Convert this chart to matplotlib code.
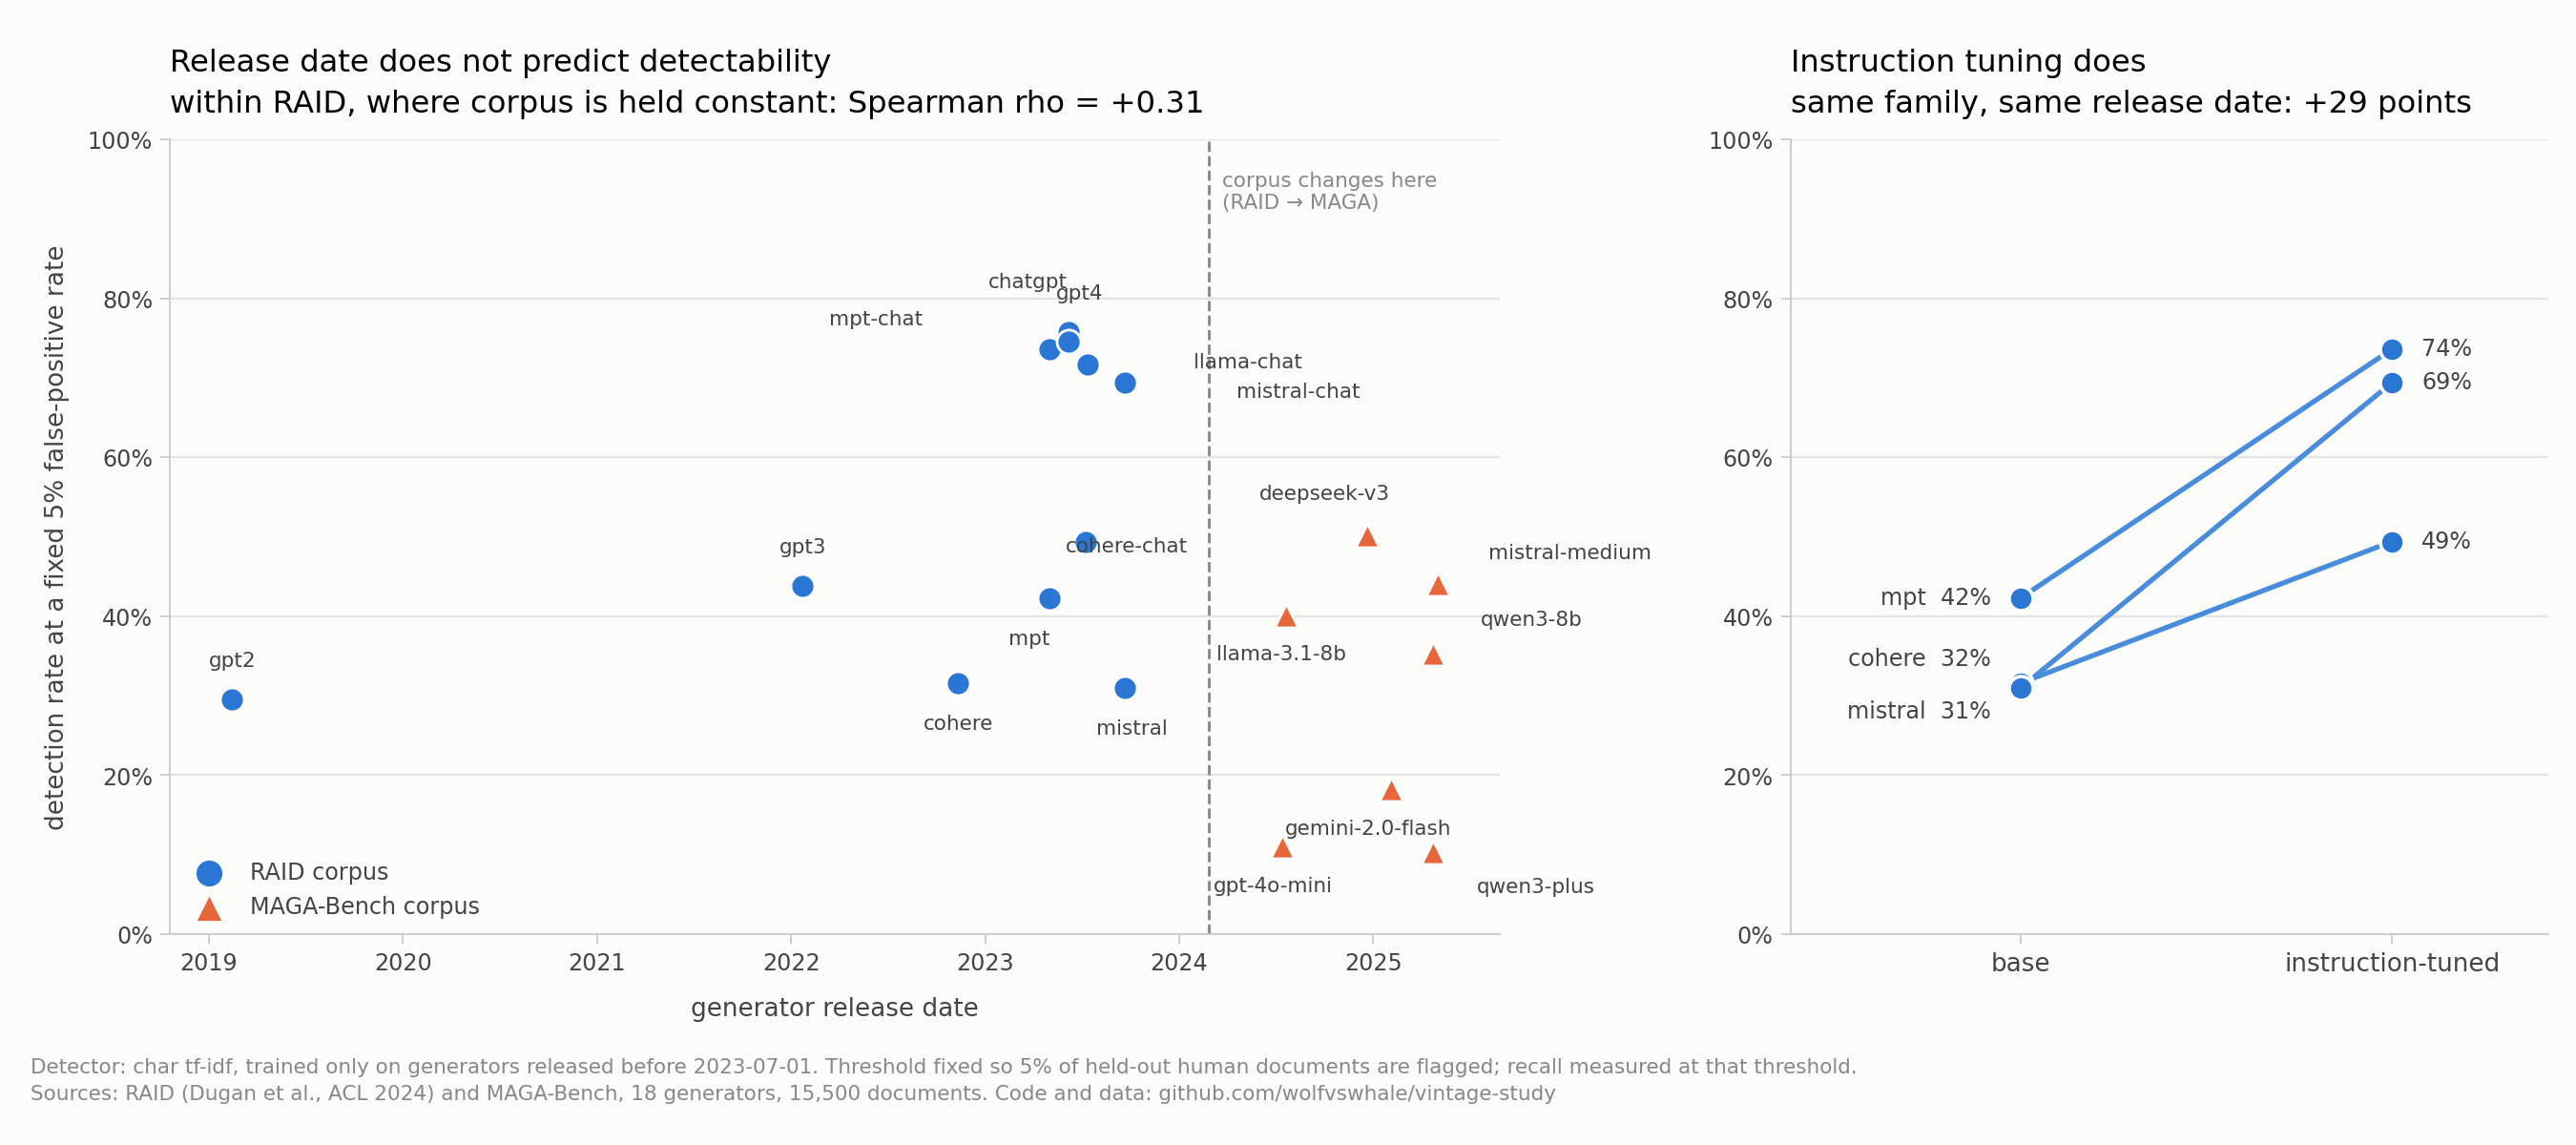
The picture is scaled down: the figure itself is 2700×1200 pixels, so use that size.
import matplotlib.pyplot as plt
from matplotlib.ticker import PercentFormatter

# RAID generators (release date as decimal year, detection %)
raid_names = ['gpt2', 'gpt3', 'cohere', 'mpt', 'mistral', 'cohere-chat',
              'mpt-chat', 'chatgpt', 'gpt4', 'llama-chat', 'mistral-chat']
raid_dates = [2019.12, 2022.06, 2022.86, 2023.33, 2023.72, 2023.52,
              2023.33, 2023.43, 2023.43, 2023.53, 2023.72]
raid_rates = [29.5, 43.8, 31.6, 42.3, 31.0, 49.4, 73.6, 75.8, 74.6, 71.7, 69.4]

maga_names = ['llama-3.1-8b', 'deepseek-v3', 'mistral-medium', 'qwen3-8b',
              'gemini-2.0-flash', 'gpt-4o-mini', 'qwen3-plus']
maga_dates = [2024.55, 2024.97, 2025.33, 2025.31, 2025.09, 2024.53, 2025.31]
maga_rates = [40.1, 50.2, 44.0, 35.3, 18.2, 11.0, 10.3]

corpus_change = 2024.15

families = ['mpt', 'cohere', 'mistral']
base_rates = [42.3, 31.6, 31.0]
tuned_rates = [73.6, 49.4, 69.4]

# label offsets in points
offs = {
    'gpt2': (0, 17), 'gpt3': (0, 17), 'cohere': (0, -18), 'mpt': (-9, -18),
    'mistral': (3, -18), 'cohere-chat': (18, -2), 'mpt-chat': (-76, 13),
    'chatgpt': (-18, 22), 'gpt4': (5, 21), 'llama-chat': (70, 1),
    'mistral-chat': (76, -4), 'llama-3.1-8b': (-2, -17), 'deepseek-v3': (-19, 18),
    'mistral-medium': (58, 14), 'qwen3-8b': (43, 15), 'gemini-2.0-flash': (-10, -17),
    'gpt-4o-mini': (-4, -17), 'qwen3-plus': (45, -15),
}

BLUE = '#2a76d4'
ORANGE = '#e8673a'
LINE = '#4a8cdc'
TXT = '#444444'
bg = '#fcfcfb'

plt.rcParams['font.family'] = 'DejaVu Sans'
fig = plt.figure(figsize=(15.7, 6.98), dpi=172, facecolor=bg)
ax = fig.add_axes([0.066, 0.184, 0.516, 0.694], facecolor=bg)
ax2 = fig.add_axes([0.695, 0.184, 0.294, 0.694], facecolor=bg)

for a in (ax, ax2):
    for s in ['top', 'right']:
        a.spines[s].set_visible(False)
    for s in ['left', 'bottom']:
        a.spines[s].set_color('#cccccc')
    a.set_ylim(0, 100)
    a.yaxis.set_major_formatter(PercentFormatter(decimals=0))
    a.set_yticks(range(0, 101, 20))
    a.grid(axis='y', color='#e4e4e4', lw=1)
    a.set_axisbelow(True)
    a.tick_params(colors=TXT, labelsize=10, length=4)
    a.tick_params(color='#cccccc')

ax.scatter(raid_dates, raid_rates, s=110, color=BLUE, edgecolor='white', lw=1.2,
           label='RAID corpus', zorder=3)
ax.scatter(maga_dates, maga_rates, s=110, marker='^', color=ORANGE, edgecolor='white',
           lw=1.2, label='MAGA-Bench corpus', zorder=3)
for n, x, y in zip(raid_names + maga_names, raid_dates + maga_dates, raid_rates + maga_rates):
    ax.annotate(n, (x, y), xytext=offs[n], textcoords='offset points',
                ha='center', va='center', fontsize=9, color=TXT)
ax.axvline(corpus_change, color='#888888', ls='--', lw=1.2)
ax.text(corpus_change + 0.07, 96, 'corpus changes here\n(RAID \u2192 MAGA)', fontsize=9,
        color='#888888', va='top')
ax.set_xlim(2018.8, 2025.65)
ax.set_xticks(range(2019, 2026))
ax.set_xlabel('generator release date', fontsize=11, color=TXT, labelpad=10)
ax.set_ylabel('detection rate at a fixed 5% false-positive rate', fontsize=11, color=TXT, labelpad=8)
ax.set_title('Release date does not predict detectability\nwithin RAID, where corpus is held constant: Spearman rho = +0.31',
             loc='left', fontsize=13.5, pad=12, linespacing=1.5)
leg = ax.legend(loc='lower left', frameon=False, fontsize=10, labelcolor=TXT,
                borderaxespad=0.3, handletextpad=0.8, markerscale=1.2)

# right panel
label_dy = [0, 7, -7]
for f, b, t, dy in zip(families, base_rates, tuned_rates, label_dy):
    ax2.plot([0, 1], [b, t], color=LINE, lw=2.2, zorder=2)
    ax2.annotate(f'{f}  {b:.0f}%', (0, b), xytext=(-13, dy * 1.5), textcoords='offset points',
                 ha='right', va='center', fontsize=10, color=TXT)
    ax2.annotate(f'{t:.0f}%', (1, t), xytext=(13, 0), textcoords='offset points',
                 ha='left', va='center', fontsize=10, color=TXT)
ax2.scatter([0] * 3, base_rates, s=110, color=BLUE, edgecolor='white', lw=1.5, zorder=3)
ax2.scatter([1] * 3, tuned_rates, s=110, color=BLUE, edgecolor='white', lw=1.5, zorder=3)
ax2.set_xlim(-0.62, 1.42)
ax2.set_xticks([0, 1])
ax2.set_xticklabels(['base', 'instruction-tuned'], fontsize=11)
ax2.set_title('Instruction tuning does\nsame family, same release date: +29 points',
              loc='left', fontsize=13.5, pad=12, linespacing=1.5)

fig.text(0.012, 0.04, 'Detector: char tf-idf, trained only on generators released before 2023-07-01. '
         'Threshold fixed so 5% of held-out human documents are flagged; recall measured at that threshold.\n'
         'Sources: RAID (Dugan et al., ACL 2024) and MAGA-Bench, 18 generators, 15,500 documents. '
         'Code and data: github.com/wolfvswhale/vintage-study',
         fontsize=9, color='#888888', linespacing=1.5)

fig.savefig('out.png', dpi=172, facecolor=bg)
